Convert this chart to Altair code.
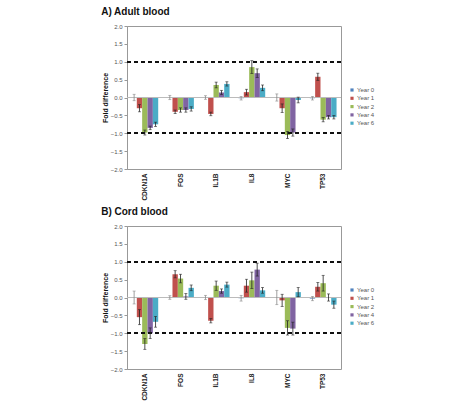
import altair as alt
import pandas as pd

genes = ["CDKN1A", "FOS", "IL1B", "IL8", "MYC", "TP53"]
years = ["Year 0", "Year 1", "Year 2", "Year 4", "Year 6"]
colors = ["#4F81BD", "#C0504D", "#9BBB59", "#8064A2", "#4BACC6"]

# Adult blood: mean fold difference per year (one value per gene)
adult_y0 = [0.0, 0.0, 0.0, -0.02, 0.0, -0.02]
adult_y1 = [-0.30, -0.40, -0.46, 0.15, -0.30, 0.58]
adult_y2 = [-0.98, -0.35, 0.35, 0.85, -1.05, -0.62]
adult_y4 = [-0.85, -0.35, 0.14, 0.68, -0.98, -0.55]
adult_y6 = [-0.75, -0.32, 0.38, 0.27, -0.07, -0.55]
# Adult blood: error (half range)
adult_e0 = [0.09, 0.06, 0.05, 0.05, 0.10, 0.05]
adult_e1 = [0.10, 0.05, 0.05, 0.08, 0.12, 0.10]
adult_e2 = [0.07, 0.06, 0.08, 0.18, 0.10, 0.06]
adult_e4 = [0.05, 0.06, 0.06, 0.12, 0.10, 0.05]
adult_e6 = [0.06, 0.06, 0.06, 0.08, 0.08, 0.05]

# Cord blood
cord_y0 = [0.0, 0.0, 0.0, -0.02, 0.0, -0.03]
cord_y1 = [-0.55, 0.65, -0.65, 0.33, -0.08, 0.30]
cord_y2 = [-1.30, 0.53, 0.33, 0.48, -0.85, 0.40]
cord_y4 = [-1.00, 0.03, 0.18, 0.78, -0.87, 0.00]
cord_y6 = [-0.68, 0.27, 0.36, 0.20, 0.15, -0.20]
cord_e0 = [0.18, 0.05, 0.06, 0.08, 0.20, 0.06]
cord_e1 = [0.21, 0.10, 0.06, 0.18, 0.17, 0.12]
cord_e2 = [0.15, 0.12, 0.13, 0.23, 0.20, 0.22]
cord_e4 = [0.15, 0.08, 0.06, 0.18, 0.18, 0.10]
cord_e6 = [0.15, 0.08, 0.07, 0.08, 0.13, 0.10]

y_ticks = [-2.0, -1.5, -1.0, -0.5, 0.0, 0.5, 1.0, 1.5, 2.0]
FONT = "Liberation Sans"


def build_df(vals, errs):
    rows = []
    for yr, vs, es in zip(years, vals, errs):
        for g, v, e in zip(genes, vs, es):
            rows.append({"gene": g, "year": yr, "value": v, "lo": v - e, "hi": v + e})
    return pd.DataFrame(rows)


YAXIS = alt.Axis(values=y_ticks, format=".1f", labelFontSize=6, labelColor="#555",
                 tickSize=3, tickColor="#999", domainColor="#999", grid=False,
                 labelOverlap=False, title="Fold difference",
                 titleFontSize=7, titleFontWeight="bold", titleColor="#111",
                 titlePadding=2, labelPadding=2)
XAXIS = alt.Axis(labelAngle=270, labelFontWeight="bold", labelFontSize=6.5,
                 labelColor="#222", ticks=False, domain=False, labelPadding=4, title=None)
YSCALE = alt.Scale(domain=[-2, 2], nice=False)
XSCALE = alt.Scale(paddingInner=0.25, paddingOuter=0.125)


def panel(df, title):
    base = alt.Chart(df)
    x = alt.X("gene:N", sort=genes, scale=XSCALE, axis=XAXIS, title=None)
    xo = alt.XOffset("year:N", sort=years,
                     scale=alt.Scale(domain=years, paddingInner=0, paddingOuter=0))

    def yq(field):
        return alt.Y(field, type="quantitative", scale=YSCALE, axis=YAXIS, title="Fold difference")

    def yd(v):
        return alt.Y(datum=v, type="quantitative", scale=YSCALE, axis=YAXIS, title="Fold difference")

    bars = base.mark_bar().encode(
        x=x, xOffset=xo, y=yq("value"),
        color=alt.Color("year:N", sort=years,
                        scale=alt.Scale(domain=years, range=colors),
                        legend=alt.Legend(title=None, orient="none", legendX=222, legendY=61,
                                          symbolType="square", symbolSize=10,
                                          labelFontSize=6, labelColor="#555",
                                          rowPadding=2.3, labelOffset=2, symbolStrokeWidth=0)),
    )
    zero = base.mark_rule(color="#bbbbbb", strokeWidth=1).encode(y=yd(0))
    dash_hi = base.mark_rule(color="#111", strokeWidth=1.2, strokeDash=[4, 3]).encode(y=yd(1.0))
    dash_lo = base.mark_rule(color="#111", strokeWidth=1.2, strokeDash=[4, 3]).encode(y=yd(-1.0))

    def err_layers(filt, col):
        b = base.transform_filter(filt)
        r = b.mark_rule(color=col, strokeWidth=0.8).encode(
            x=x, xOffset=xo, y=yq("lo"), y2="hi:Q")
        t1 = b.mark_tick(color=col, size=3, thickness=0.8, orient="horizontal").encode(
            x=x, xOffset=xo, y=yq("lo"))
        t2 = b.mark_tick(color=col, size=3, thickness=0.8, orient="horizontal").encode(
            x=x, xOffset=xo, y=yq("hi"))
        return [r, t1, t2]

    layers = [bars, zero, dash_hi, dash_lo]
    layers += err_layers(alt.datum.year == "Year 0", "#888888")
    layers += err_layers(alt.datum.year != "Year 0", "#222222")
    return alt.layer(*layers).properties(
        width=214, height=143,
        title=alt.TitleParams(title, anchor="start", fontSize=10, fontWeight="bold",
                              font=FONT, color="#111", offset=6),
    )


adult = panel(build_df([adult_y0, adult_y1, adult_y2, adult_y4, adult_y6],
                       [adult_e0, adult_e1, adult_e2, adult_e4, adult_e6]),
              "A) Adult blood")
cord = panel(build_df([cord_y0, cord_y1, cord_y2, cord_y4, cord_y6],
                      [cord_e0, cord_e1, cord_e2, cord_e4, cord_e6]),
             "B) Cord blood")

chart = alt.vconcat(adult, cord, spacing=5).resolve_scale(color="independent").properties(
    padding={"left": 100, "top": 6, "right": 5, "bottom": 0}
).configure(font=FONT).configure_view(stroke="#999999", strokeWidth=1)

chart.save("out.html", embed_options={"renderer": "svg", "actions": False})
